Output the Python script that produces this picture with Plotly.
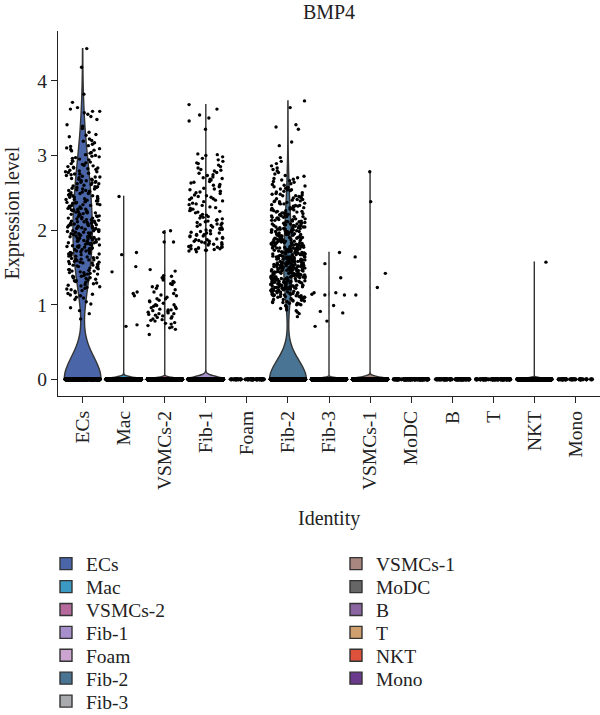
import math
import plotly.graph_objects as go

CATEGORIES = ["ECs", "Mac", "VSMCs-2", "Fib-1", "Foam", "Fib-2", "Fib-3",
              "VSMCs-1", "MoDC", "B", "T", "NKT", "Mono"]
COLORS = ["#4A66A8", "#3B9AC3", "#B5699C", "#A68FCA", "#CBA5D0", "#4A7494", "#A9AAAE",
          "#A98680", "#666667", "#8B65A2", "#CF9F6E", "#DE513A", "#6A3A8D"]
# number of cells with zero expression per identity (estimated)
ZERO_COUNTS = [260, 1200, 900, 1500, 40, 1030, 600, 600, 80, 60, 60, 300, 30]

# positive expression values (in hundredths), read from the jittered points
ECS_POS = [
    81, 88, 92, 96, 101, 104, 107, 109,
    110, 112, 113, 115, 116, 118, 119, 114,
    120, 121, 122, 123, 124, 125, 126, 127, 128, 129,
    130, 131, 132, 133, 134, 135, 136, 137, 138, 139, 132, 136, 138,
    140, 141, 142, 143, 144, 145, 146, 147, 148, 149, 141, 143, 145, 147, 149,
    150, 151, 152, 153, 154, 155, 156, 157, 158, 159, 151, 153, 154, 156, 157, 158,
    160, 161, 162, 163, 164, 165, 166, 167, 168, 169, 160, 161, 163, 165, 166, 168, 169,
    170, 171, 172, 173, 174, 175, 176, 177, 178, 179, 171, 172, 174, 175, 176, 177, 178, 179,
    180, 181, 182, 183, 184, 185, 186, 187, 188, 189, 180, 181, 182, 183, 184, 185, 186, 187, 188, 189,
    190, 191, 192, 193, 194, 195, 196, 197, 198, 199, 190, 191, 192, 193, 194, 195, 196, 197, 198, 199,
    200, 201, 202, 203, 204, 205, 206, 207, 208, 209, 200, 201, 202, 203, 204, 205, 206, 207, 208, 209,
    210, 211, 212, 213, 214, 215, 216, 217, 218, 219, 210, 211, 213, 214, 215, 216, 218, 219, 212,
    220, 221, 222, 223, 224, 225, 226, 227, 228, 229, 221, 222, 224, 225, 227, 228, 229, 223,
    230, 231, 232, 233, 234, 235, 236, 237, 238, 239, 231, 233, 234, 236, 237, 238, 239,
    240, 241, 242, 243, 244, 245, 246, 247, 248, 249, 241, 242, 244, 246, 248, 249,
    250, 251, 252, 253, 254, 255, 256, 257, 258, 259, 251, 253, 255, 257, 258,
    260, 261, 262, 263, 264, 265, 266, 267, 268, 269, 262, 264, 266, 268,
    270, 271, 272, 273, 274, 275, 276, 277, 278, 279, 271, 275, 278,
    280, 281, 282, 283, 284, 285, 286, 287, 288, 289, 283, 287,
    290, 291, 292, 293, 294, 295, 296, 297, 298, 299,
    300, 301, 303, 304, 306, 307, 308, 309,
    310, 312, 313, 315, 317, 319, 320, 322, 325, 327, 328,
    331, 336, 339, 341, 348, 352, 355, 357, 359, 359,
    362, 364, 371, 382, 418, 443,
]
MAC_POS = [245, 170, 167, 151, 144, 117, 115, 112, 73, 71]
VSMC2_POS = [
    199, 197, 184, 184, 147, 145, 139, 138, 136, 135, 133, 131, 130, 128, 127, 125, 124,
    122, 120, 117, 115, 113, 112, 110, 108, 108, 106, 105, 104, 102, 100, 100, 99, 98,
    97, 96, 95, 94, 93, 93, 92, 91, 90, 89, 88, 88, 87, 86, 85, 84, 83, 82, 81, 80,
    79, 78, 76, 75, 74, 72, 70, 69, 67, 60,
]
FIB1_POS = [
    171, 172, 173, 173, 174, 175, 175, 176, 177, 177, 178, 178, 179, 174, 176,
    180, 181, 181, 182, 183, 184, 185, 185, 186, 187, 188, 189, 183, 187,
    190, 191, 192, 192, 193, 194, 195, 196, 197, 198, 199, 194, 196,
    200, 201, 201, 202, 203, 204, 205, 206, 207, 207, 208, 209,
    210, 211, 212, 213, 214, 215, 216, 217, 218, 219,
    220, 221, 223, 224, 225, 226, 227, 228, 229,
    230, 231, 233, 234, 235, 236, 238, 239,
    240, 241, 242, 243, 244, 245, 246, 247, 249,
    250, 251, 252, 254, 255, 256, 258, 259,
    260, 261, 263, 264, 265, 267, 268, 269,
    270, 271, 273, 274, 276, 277, 279,
    280, 281, 283, 285, 287, 289,
    290, 292, 294, 296, 298, 300, 301, 302,
    335, 346, 350, 354, 362, 368,
]
FIB2_POS = [
    84, 88, 90, 92, 93, 95, 96, 98, 99,
    100, 100, 101, 102, 102, 103, 103, 104, 104, 105, 105, 106, 106, 107, 107, 108, 108, 109, 109,
    110, 110, 110, 111, 111, 111, 112, 112, 112, 113, 113, 113, 114, 114, 114, 115, 115, 115,
    116, 116, 116, 117, 117, 117, 118, 118, 118, 119, 119, 119,
    120, 120, 120, 121, 121, 121, 121, 122, 122, 122, 123, 123, 123, 123, 124, 124, 124, 124,
    125, 125, 125, 125, 126, 126, 126, 127, 127, 127, 127, 128, 128, 128, 129, 129, 129, 129,
    130, 130, 130, 130, 131, 131, 131, 131, 132, 132, 132, 132, 133, 133, 133, 133, 134, 134, 134, 134,
    135, 135, 135, 135, 135, 136, 136, 136, 136, 137, 137, 137, 137, 138, 138, 138, 138, 139, 139, 139, 139,
    140, 140, 140, 140, 141, 141, 141, 141, 142, 142, 142, 142, 142, 143, 143, 143, 143, 144, 144, 144, 144,
    145, 145, 145, 145, 146, 146, 146, 146, 147, 147, 147, 147, 147, 148, 148, 148, 148, 149, 149, 149, 149,
    150, 150, 150, 150, 151, 151, 151, 151, 151, 152, 152, 152, 152, 153, 153, 153, 153, 154, 154, 154, 154,
    155, 155, 155, 155, 156, 156, 156, 156, 156, 157, 157, 157, 157, 158, 158, 158, 158, 159, 159, 159, 159,
    160, 160, 160, 160, 161, 161, 161, 161, 162, 162, 162, 162, 163, 163, 163, 163, 164, 164, 164, 164, 164,
    165, 165, 165, 165, 166, 166, 166, 166, 167, 167, 167, 167, 168, 168, 168, 168, 169, 169, 169, 169,
    170, 170, 170, 170, 171, 171, 171, 172, 172, 172, 172, 173, 173, 173, 174, 174, 174, 174,
    175, 175, 175, 175, 176, 176, 176, 176, 177, 177, 177, 178, 178, 178, 178, 179, 179, 179, 179,
    180, 180, 180, 181, 181, 181, 181, 182, 182, 182, 183, 183, 183, 183, 184, 184, 184,
    185, 185, 185, 185, 186, 186, 186, 187, 187, 187, 187, 188, 188, 188, 189, 189, 189,
    190, 190, 190, 191, 191, 191, 192, 192, 192, 193, 193, 193, 194, 194, 194,
    195, 195, 195, 196, 196, 196, 197, 197, 197, 198, 198, 198, 199, 199, 199,
    200, 200, 200, 201, 201, 201, 202, 202, 202, 203, 203, 204, 204, 204,
    205, 205, 205, 206, 206, 206, 207, 207, 208, 208, 208, 209, 209,
    210, 210, 211, 211, 211, 212, 212, 213, 213, 213, 214, 214,
    215, 215, 216, 216, 216, 217, 217, 218, 218, 218, 219, 219,
    220, 220, 221, 221, 222, 222, 223, 223, 224, 224,
    225, 225, 226, 226, 227, 227, 228, 228, 229, 229,
    230, 230, 231, 232, 232, 233, 233, 234, 235, 235, 236, 236, 237, 238, 238, 239, 239,
    240, 241, 241, 242, 243, 244, 244, 245, 246, 246, 247, 248, 248, 249,
    250, 251, 252, 253, 254, 254, 255, 256, 257, 258, 259,
    260, 261, 262, 264, 265, 266, 267, 268, 269,
    270, 272, 273, 275, 277, 279, 281, 283, 286, 289, 292, 297,
    313, 318, 335, 338, 341, 364, 373,
]
FIB3_POS = [170, 155, 136, 116, 116, 114, 113, 113, 99, 91, 89, 78, 71]
VSMC1_POS = [278, 238, 164, 142, 123, 113]
NKT_POS = [157]

POSITIVES = {"ECs": ECS_POS, "Mac": MAC_POS, "VSMCs-2": VSMC2_POS, "Fib-1": FIB1_POS,
             "Fib-2": FIB2_POS, "Fib-3": FIB3_POS, "VSMCs-1": VSMC1_POS, "NKT": NKT_POS}
BANDWIDTH = {"ECs": 0.30, "Fib-2": 0.25}

FONT = "Liberation Serif"
INK = "#222222"
FS = 19.5

fig = go.Figure()
group_values = []
legend_layouts = {}
for i, g in enumerate(CATEGORIES):
    vals = [0.0] * ZERO_COUNTS[i] + [v / 100 for v in POSITIVES.get(g, [])]
    group_values.append(vals)
    lname = "legend" if i == 0 else f"legend{i + 1}"
    col, row = (0, i) if i < 7 else (1, i - 7)
    legend_layouts[lname] = dict(
        x=(46 if col == 0 else 336) / 600, xref="container", xanchor="left",
        y=1 - (564 + 22.9 * row) / 715, yref="container", yanchor="middle",
        font=dict(family=FONT, size=FS, color=INK), bgcolor="rgba(0,0,0,0)",
        borderwidth=0)
    fig.add_trace(go.Violin(
        x0=i, y=vals, name=g, legend=lname,
        fillcolor=COLORS[i], line=dict(color="#333333", width=1.4),
        width=0.9, spanmode="hard", scalemode="width", points=False,
        bandwidth=BANDWIDTH.get(g), hoverinfo="skip", opacity=1,
    ))


def jitter(k, i):
    # deterministic hash-based horizontal jitter in [-0.42, 0.42]
    h = math.sin((k + 1) * 12.9898 + (i + 1) * 78.233) * 43758.5453
    return ((h - math.floor(h)) - 0.5) * 0.84


px, py, psize = [], [], []
for i, vals in enumerate(group_values):
    for k, v in enumerate(vals):
        px.append(i + jitter(k, i))
        py.append(v)
        psize.append(4.2 if v == 0 else 3.4)
fig.add_trace(go.Scatter(x=px, y=py, mode="markers", showlegend=False, hoverinfo="skip",
                         marker=dict(color="black", size=psize, opacity=1, line=dict(width=0))))

axis_common = dict(showline=True, linecolor=INK, linewidth=1.3, ticks="outside",
                   ticklen=6, tickwidth=1.3, tickcolor=INK, showgrid=False, zeroline=False,
                   tickfont=dict(family=FONT, size=FS, color=INK))

fig.update_layout(
    width=600, height=715,
    margin=dict(l=58, r=0, t=31, b=319, autoexpand=False),
    paper_bgcolor="white", plot_bgcolor="white",
    violinmode="overlay",
    font=dict(family=FONT, color=INK),
    title=dict(text="BMP4", x=0.5, xref="paper", xanchor="center",
               y=1 - 12 / 715, yref="container", yanchor="middle",
               font=dict(family=FONT, size=20, color=INK)),
    xaxis=dict(range=[-0.6, 12.6], tickmode="array", tickvals=list(range(len(CATEGORIES))),
               ticktext=CATEGORIES, tickangle=-90, **axis_common),
    yaxis=dict(range=[-0.223, 4.666], tickmode="array", tickvals=[0, 1, 2, 3, 4],
               **axis_common),
    annotations=[
        dict(text="Expression level", textangle=-90, showarrow=False,
             xref="paper", x=0, xshift=-46, xanchor="center",
             yref="paper", y=0.5, yanchor="middle",
             font=dict(family=FONT, size=20, color=INK)),
        dict(text="Identity", showarrow=False,
             xref="paper", x=0.5, xanchor="center",
             yref="paper", y=0, yshift=-122, yanchor="middle",
             font=dict(family=FONT, size=20, color=INK)),
    ],
    **legend_layouts,
)

fig.write_html("out.html")
